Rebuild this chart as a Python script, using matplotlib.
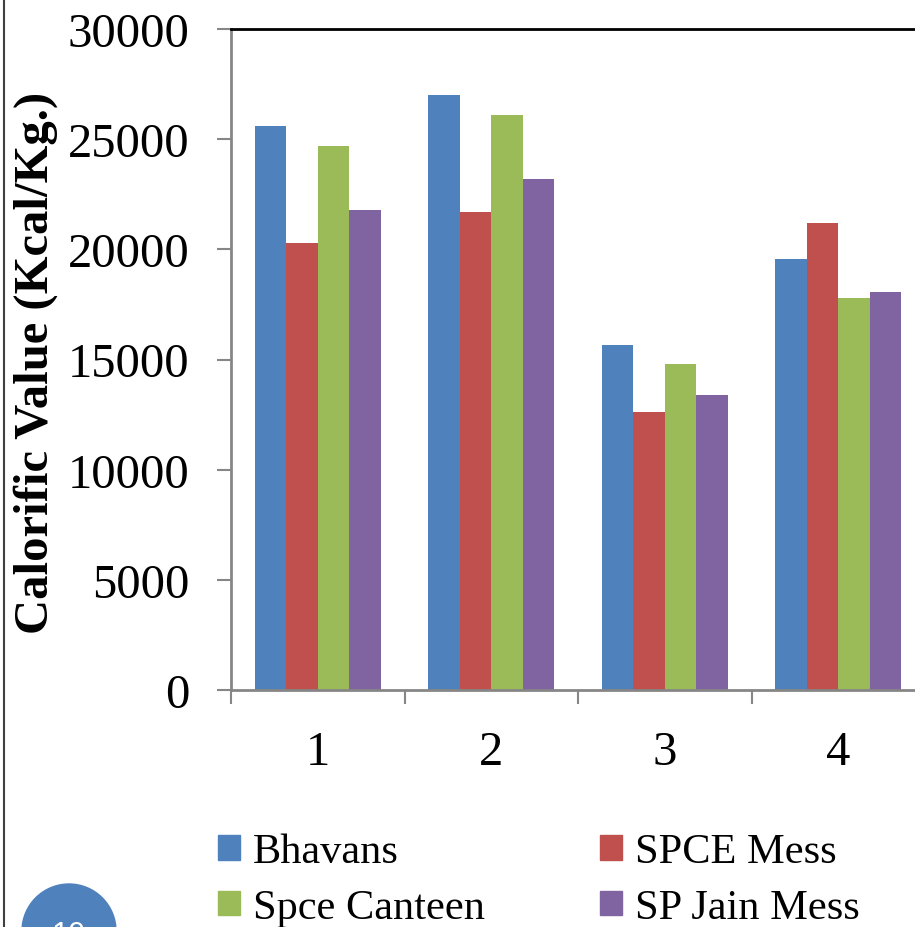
import matplotlib
matplotlib.use('Agg')
import matplotlib.pyplot as plt
from matplotlib.patches import Ellipse, Patch
from matplotlib.lines import Line2D
import numpy as np

# Data
categories = ['1', '2', '3', '4']
series_names = ['Bhavans', 'SPCE Mess', 'Spce Canteen', 'SP Jain Mess']
bhavans = [25600, 27000, 15650, 19550]
spce_mess = [20300, 21700, 12600, 21200]
spce_canteen = [24700, 26100, 14800, 17800]
sp_jain_mess = [21800, 23200, 13400, 18050]
colors = ['#4F81BD', '#C0504D', '#9BBB59', '#8064A2']
y_ticks = [0, 5000, 10000, 15000, 20000, 25000, 30000]

plt.rcParams['font.family'] = ['Liberation Serif', 'DejaVu Serif']

W, H = 915, 928
fig = plt.figure(figsize=(W / 100, H / 100), dpi=100)
ax = fig.add_axes([231 / W, 1 - 691 / H, 694 / W, 661 / H])

series = [bhavans, spce_mess, spce_canteen, sp_jain_mess]
x = np.arange(len(categories))
bar_w = 0.182
for i, vals in enumerate(series):
    ax.bar(x + (i - 1.5) * bar_w, vals, width=bar_w, color=colors[i],
           edgecolor='none', label=series_names[i])

ax.set_xlim(-0.5, len(categories) - 0.5)
ax.set_ylim(0, 30000)
ax.set_yticks(y_ticks)
ax.set_yticklabels([str(v) for v in y_ticks])

# ticks at category boundaries, labels at centers
ax.set_xticks(np.arange(-0.5, len(categories), 1.0))
ax.set_xticklabels([])
ax.set_xticks(x, minor=True)
ax.set_xticklabels(categories, minor=True)

grey = '#868686'
ax.tick_params(axis='y', which='major', length=10, width=1.5, color=grey,
               labelsize=35, pad=20)
ax.tick_params(axis='x', which='major', length=10, width=1.5, color=grey)
ax.tick_params(axis='x', which='minor', length=0, labelsize=35, pad=29)

for side in ['left', 'bottom']:
    ax.spines[side].set_color(grey)
    ax.spines[side].set_linewidth(2)
ax.spines['top'].set_color('black')
ax.spines['top'].set_linewidth(2)
ax.spines['right'].set_visible(False)

fig.text(36 / W, 1 - 363 / H, 'Calorific Value (Kcal/Kg.)', rotation=90,
         fontsize=35, fontweight='bold', ha='center', va='center')

# legend
handles = [Patch(color=colors[0]), Patch(color=colors[2]),
           Patch(color=colors[1]), Patch(color=colors[3])]
labels = [series_names[0], series_names[2], series_names[1], series_names[3]]
fig.legend(handles, labels, ncol=2, loc='upper left',
           bbox_to_anchor=(218 / W, 1 - 834 / H), frameon=False,
           fontsize=30.5, handlelength=0.52, handleheight=0.52,
           handletextpad=0.3, columnspacing=2.72, labelspacing=0.4,
           borderpad=0, borderaxespad=0)

# slide frame line and page number badge
fig.add_artist(Line2D([4 / W, 4 / W], [0, 1], transform=fig.transFigure,
                      color='#404040', linewidth=1.5))
fig.add_artist(Ellipse((69 / W, 1 - 932 / H), 94 / W, 94 / H,
                       transform=fig.transFigure, color='#4F81BD'))
fig.text(69 / W, 1 - 936 / H, '10', color='white', fontsize=22,
         family='Liberation Sans', ha='center', va='center')

fig.savefig('out.png', dpi=100)
